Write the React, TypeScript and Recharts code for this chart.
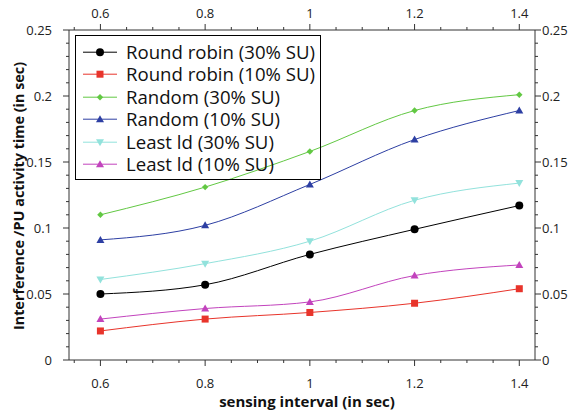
import React from 'react';
import { LineChart, Line, XAxis, YAxis, Legend } from 'recharts';

// ---- data ----
const intervals = [0.6, 0.8, 1.0, 1.2, 1.4];
const rr30 = [0.05, 0.057, 0.08, 0.099, 0.117];
const rr10 = [0.022, 0.031, 0.036, 0.043, 0.054];
const rand30 = [0.11, 0.131, 0.158, 0.189, 0.201];
const rand10 = [0.091, 0.102, 0.133, 0.167, 0.189];
const ll30 = [0.061, 0.073, 0.09, 0.121, 0.134];
const ll10 = [0.031, 0.039, 0.044, 0.064, 0.072];

const seriesNames = [
  'Round robin (30% SU)',
  'Round robin (10% SU)',
  'Random (30% SU)',
  'Random (10% SU)',
  'Least ld (30% SU)',
  'Least ld (10% SU)',
];

const xMajor = [0.6, 0.8, 1, 1.2, 1.4];
const xTicks = [0.55, 0.6, 0.65, 0.7, 0.75, 0.8, 0.85, 0.9, 0.95, 1, 1.05, 1.1, 1.15, 1.2, 1.25, 1.3, 1.35, 1.4];
const yMajor = [0, 0.05, 0.1, 0.15, 0.2, 0.25];
const yTicks = [0, 0.01, 0.02, 0.03, 0.04, 0.05, 0.06, 0.07, 0.08, 0.09, 0.1, 0.11, 0.12, 0.13, 0.14, 0.15, 0.16, 0.17, 0.18, 0.19, 0.2, 0.21, 0.22, 0.23, 0.24, 0.25];

const xLabel = 'sensing interval (in sec)';
const yLabel = 'Interference /PU activity time (in sec)';

const series = [
  { key: 'rr30', values: rr30, color: '#000000', marker: 'circle' },
  { key: 'rr10', values: rr10, color: '#e8342b', marker: 'square' },
  { key: 'rand30', values: rand30, color: '#62c843', marker: 'diamond' },
  { key: 'rand10', values: rand10, color: '#2d3fa3', marker: 'up' },
  { key: 'll30', values: ll30, color: '#92e2dc', marker: 'down' },
  { key: 'll10', values: ll10, color: '#c243bd', marker: 'up' },
];

const data = intervals.map((x, i) => {
  const row: any = { x };
  series.forEach((s) => (row[s.key] = s.values[i]));
  return row;
});

const FONT = "'Open Sans', 'DejaVu Sans', sans-serif";

function Marker({ kind, cx, cy, color }: any) {
  if (cx == null || cy == null) return null;
  switch (kind) {
    case 'circle':
      return <circle cx={cx} cy={cy} r={4} fill={color} />;
    case 'square':
      return <rect x={cx - 3.5} y={cy - 3.5} width={7} height={7} fill={color} />;
    case 'diamond':
      return <polygon points={`${cx},${cy - 3.2} ${cx + 3.2},${cy} ${cx},${cy + 3.2} ${cx - 3.2},${cy}`} fill={color} />;
    case 'up':
      return <polygon points={`${cx},${cy - 4} ${cx + 4},${cy + 3} ${cx - 4},${cy + 3}`} fill={color} />;
    case 'down':
      return <polygon points={`${cx - 4},${cy - 3} ${cx + 4},${cy - 3} ${cx},${cy + 4}`} fill={color} />;
    default:
      return null;
  }
}

const makeTick = (orient: string, majors: number[]) => (props: any) => {
  const { x, y, payload } = props;
  const v = payload.value;
  const major = majors.some((m) => Math.abs(m - v) < 1e-9);
  const len = major ? 6 : 3;
  const label = major ? String(v) : '';
  const style = { fontFamily: FONT, fontSize: 13, fill: '#222' } as any;
  if (orient === 'left') {
    return (
      <g>
        <line x1={x - len} x2={x} y1={y} y2={y} stroke="#333" />
        {label && <text x={x - 17} y={y} textAnchor="end" dominantBaseline="central" style={style}>{label}</text>}
      </g>
    );
  }
  if (orient === 'right') {
    return (
      <g>
        <line x1={x} x2={x + len} y1={y} y2={y} stroke="#333" />
        {label && <text x={x + 7} y={y} textAnchor="start" dominantBaseline="central" style={style}>{label}</text>}
      </g>
    );
  }
  if (orient === 'bottom') {
    return (
      <g>
        <line x1={x} x2={x} y1={y} y2={y + len} stroke="#333" />
        {label && <text x={x} y={y + 28} textAnchor="middle" style={style}>{label}</text>}
      </g>
    );
  }
  return (
    <g>
      <line x1={x} x2={x} y1={y - len} y2={y} stroke="#333" />
      {label && <text x={x} y={y - 12} textAnchor="middle" style={style}>{label}</text>}
    </g>
  );
};

const LegendBox = () => (
  <div
    style={{
      position: 'relative',
      width: 246,
      height: 145,
      border: '1px solid #000',
      boxSizing: 'border-box',
      fontFamily: FONT,
      fontSize: 18.6,
      color: '#111',
    }}
  >
    {series.map((s, i) => (
      <div key={s.key} style={{ position: 'absolute', left: 0, top: 5 + i * 22.4, height: 22.4, width: 244 }}>
        <svg width={36} height={22} style={{ position: 'absolute', left: 7, top: 0 }}>
          <line x1={0} x2={34} y1={11.2} y2={11.2} stroke={s.color} strokeWidth={1} />
          <Marker kind={s.marker} cx={17} cy={11.2} color={s.color} />
        </svg>
        <span
          style={{
            position: 'absolute',
            display: 'block',
            left: 50,
            top: 0,
            height: 22.4,
            lineHeight: '22.4px',
            whiteSpace: 'nowrap',
            overflow: 'visible',
          }}
        >
          {seriesNames[i]}
        </span>
      </div>
    ))}
  </div>
);

export default function App() {
  return (
    <div style={{ position: 'absolute', left: 0, top: 0, width: 577, height: 415, background: '#fff' }}>
      <LineChart width={577} height={415} data={data} margin={{ top: 0, right: 0, bottom: 0, left: 0 }}>
        <XAxis
          xAxisId="bottom"
          dataKey="x"
          type="number"
          orientation="bottom"
          domain={[0.54, 1.43]}
          allowDataOverflow
          ticks={xTicks}
          interval={0}
          height={55}
          tickSize={0}
          tickMargin={0}
          tickLine={false}
          axisLine={{ stroke: '#333' }}
          tick={makeTick('bottom', xMajor)}
        />
        <XAxis
          xAxisId="top"
          dataKey="x"
          type="number"
          orientation="top"
          domain={[0.54, 1.43]}
          allowDataOverflow
          ticks={xTicks}
          interval={0}
          height={30}
          tickSize={0}
          tickMargin={0}
          tickLine={false}
          axisLine={{ stroke: '#333' }}
          tick={makeTick('top', xMajor)}
        />
        <YAxis
          yAxisId="left"
          type="number"
          orientation="left"
          domain={[0, 0.25]}
          allowDataOverflow
          ticks={yTicks}
          interval={0}
          width={69}
          tickSize={0}
          tickMargin={0}
          tickLine={false}
          axisLine={{ stroke: '#333' }}
          tick={makeTick('left', yMajor)}
        />
        <YAxis
          yAxisId="right"
          type="number"
          orientation="right"
          domain={[0, 0.25]}
          allowDataOverflow
          ticks={yTicks}
          interval={0}
          width={42}
          tickSize={0}
          tickMargin={0}
          tickLine={false}
          axisLine={{ stroke: '#333' }}
          tick={makeTick('right', yMajor)}
        />
        <Line
          xAxisId="top"
          yAxisId="right"
          dataKey="rr30"
          stroke="none"
          dot={false}
          activeDot={false}
          legendType="none"
          isAnimationActive={false}
        />
        {series.map((s, i) => (
          <Line
            key={s.key}
            xAxisId="bottom"
            yAxisId="left"
            type="monotone"
            dataKey={s.key}
            name={seriesNames[i]}
            stroke={s.color}
            strokeWidth={1}
            isAnimationActive={false}
            activeDot={false}
            dot={(p: any) => <Marker key={`${s.key}-${p.index}`} kind={s.marker} cx={p.cx} cy={p.cy} color={s.color} />}
          />
        ))}
        <Legend
          layout="vertical"
          align="center"
          verticalAlign="middle"
          content={() => <LegendBox />}
          wrapperStyle={{ left: 75, top: 35, width: 246, height: 145, margin: 0, padding: 0 }}
        />
      </LineChart>
      <svg
        width={577}
        height={415}
        style={{ position: 'absolute', left: 0, top: 0, pointerEvents: 'none' }}
      >
        <text
          x={307}
          y={406.5}
          textAnchor="middle"
          style={{ fontFamily: FONT, fontSize: 15, fontWeight: 700, fill: '#111' }}
        >
          {xLabel}
        </text>
        <text
          x={18}
          y={196}
          textAnchor="middle"
          dominantBaseline="central"
          transform="rotate(-90 18 196)"
          style={{ fontFamily: FONT, fontSize: 14.4, fontWeight: 700, fill: '#111' }}
        >
          {yLabel}
        </text>
      </svg>
    </div>
  );
}
